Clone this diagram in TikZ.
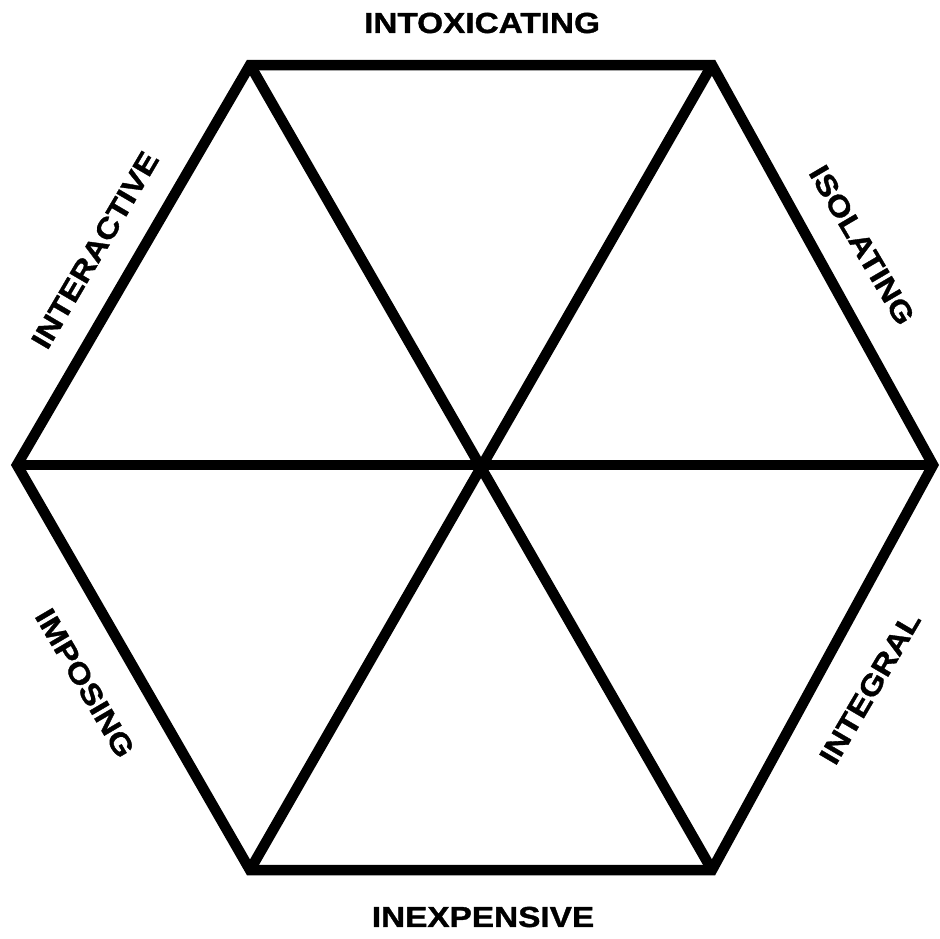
\documentclass[tikz,border=0pt]{standalone}
\usepackage{fontspec}
\setmainfont{Liberation Sans}[FakeStretch=1.15,BoldFeatures={FakeBold=1.2}]
\begin{document}
\begin{tikzpicture}[x=1pt,y=-1pt,
  edge/.style={line width=10.5pt,black},
  lab/.style={font=\fontsize{29}{30}\selectfont\bfseries,inner sep=0pt,anchor=center}]
\useasboundingbox (0,0) rectangle (940,938);
\coordinate (L) at (17,465);
\coordinate (R) at (933,465);
\coordinate (TL) at (250,65);
\coordinate (TR) at (712,65);
\coordinate (BL) at (250,870);
\coordinate (BR) at (712,870);
\coordinate (C) at (481,465);
\draw[edge,line join=miter] (L) -- (TL) -- (TR) -- (R) -- (BR) -- (BL) -- cycle;
\draw[edge] (L) -- (R);
\draw[edge] (TL) -- (BR);
\draw[edge] (TR) -- (BL);
\node[lab] (top) at (482,23) {INTOXICATING};
\node[lab] (bot) at (483,917) {INEXPENSIVE};
\node[lab,rotate=59.6] (ia) at (95,250) {INTERACTIVE};
\node[lab,rotate=-59.6] (is) at (862,245) {ISOLATING};
\node[lab,rotate=-59.6] (im) at (85,683) {IMPOSING};
\node[lab,rotate=59.6] (ig) at (870,688) {INTEGRAL};
\end{tikzpicture}
\end{document}
